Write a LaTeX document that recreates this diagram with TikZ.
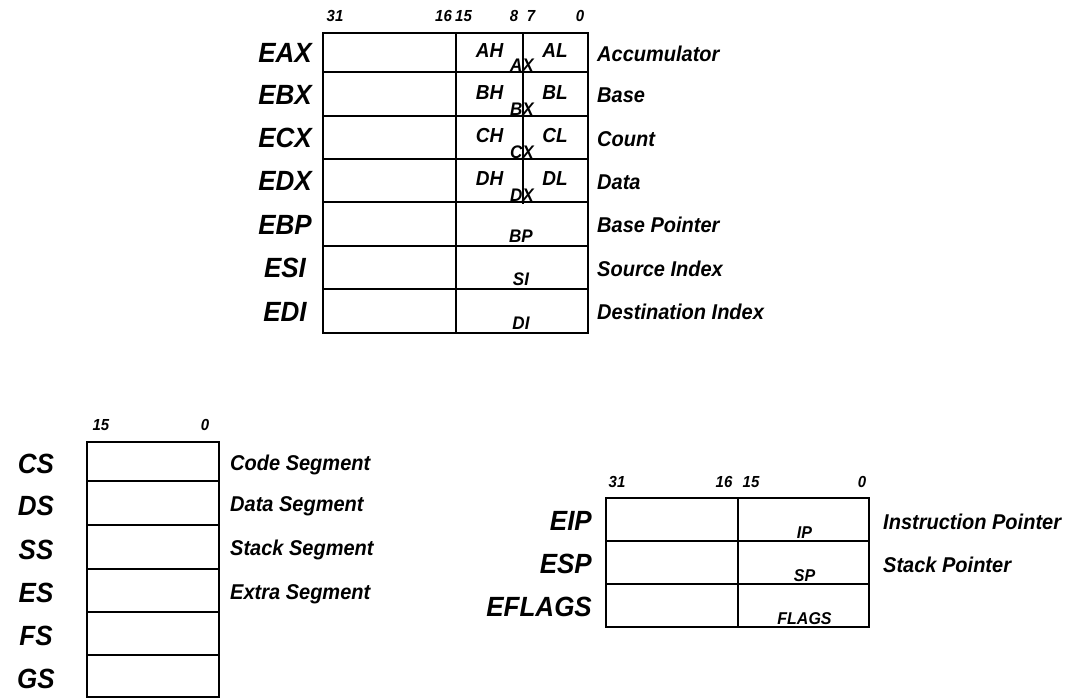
\documentclass[tikz,border=0pt]{standalone}
\usepackage{fontspec}
\setmainfont{Liberation Sans}
\newfontfamily\tallsans[FakeStretch=0.935]{Liberation Sans}
\begin{document}
\begin{tikzpicture}[x=1pt,y=-1pt,
  box/.style={line width=2.6pt},
  big/.style={font=\tallsans\fontsize{27.8}{28}\selectfont\bfseries\itshape, inner sep=0pt, anchor=base},
  bigr/.style={big, anchor=base east},
  desc/.style={font=\tallsans\fontsize{21.4}{22}\selectfont\bfseries\itshape, inner sep=0pt, anchor=base west},
  bit/.style={font=\tallsans\fontsize{16}{16}\selectfont\bfseries\itshape, inner sep=0pt, anchor=base},
  half/.style={font=\tallsans\fontsize{20.3}{20}\selectfont\bfseries\itshape, inner sep=0pt, anchor=base},
  sub/.style={font=\tallsans\fontsize{18.2}{18}\selectfont\bfseries\itshape, inner sep=0pt, anchor=base},
  low/.style={font=\tallsans\fontsize{17.1}{17}\selectfont\bfseries\itshape, inner sep=0pt, anchor=base}]
\useasboundingbox (0,0) rectangle (1070,697);

% ---------- general purpose registers ----------
\draw[box] (323,33) rectangle (588,333);
\foreach \y in {72,116,159,202,246,289} \draw[box] (323,\y) -- (588,\y);
\draw[box] (456,33) -- (456,333);
\draw[box] (523,33) -- (523,204);

\node[bit] (b31) at (335,21.5) {31};
\node[bit] (b16) at (443.5,21.5) {16};
\node[bit] (b15) at (463.5,21.5) {15};
\node[bit] (b8) at (514,21.5) {8};
\node[bit] (b7) at (531,21.5) {7};
\node[bit] (b0) at (580,21.5) {0};

\foreach \n/\c/\d in {EAX/52.5/Accumulator, EBX/94/Base, ECX/137.5/Count, EDX/180.5/Data,
  EBP/224/Base Pointer, ESI/267.5/Source Index, EDI/311/Destination Index}{
  \node[big] (n\n) at (285,\c+10) {\n};
  \node[desc] (d\n) at (597,\c+8.5) {\d};
}

\foreach \h/\l/\x/\c/\b in {AH/AL/AX/52.5/72, BH/BL/BX/94/116, CH/CL/CX/137.5/159, DH/DL/DX/180.5/202}{
  \node[half] (h\h) at (489.5,\c+5.3) {\h};
  \node[half] (h\l) at (555,\c+5.3) {\l};
  \node[sub] (s\x) at (522,\b-1) {\x};
}
\foreach \x/\b in {BP/246, SI/289, DI/333}{
  \node[sub] (s\x) at (521,\b-4) {\x};
}

% ---------- segment registers ----------
\draw[box] (87,442) rectangle (219,697);
\foreach \y in {481,525,569,612,655} \draw[box] (87,\y) -- (219,\y);
\node[bit] (sb15) at (101,430.5) {15};
\node[bit] (sb0) at (205,430.5) {0};
\foreach \n/\c in {CS/461.5, DS/503, SS/547, ES/590.5, FS/633.5, GS/676}{
  \node[big] (n\n) at (36,\c+12) {\n};
}
\foreach \n/\c/\d in {CS/461.5/Code Segment, DS/503/Data Segment, SS/547/Stack Segment, ES/590.5/Extra Segment}{
  \node[desc] (d\n) at (230,\c+8.7) {\d};
}

% ---------- EIP / ESP / EFLAGS ----------
\draw[box] (606,498) rectangle (869,627);
\foreach \y in {541,584} \draw[box] (606,\y) -- (869,\y);
\draw[box] (738,498) -- (738,627);
\node[bit] (eb31) at (617,487) {31};
\node[bit] (eb16) at (724,487) {16};
\node[bit] (eb15) at (751,487) {15};
\node[bit] (eb0) at (862,487) {0};
\foreach \n/\c/\s/\b in {EIP/519.5/IP/541, ESP/562.5/SP/584, EFLAGS/605.5/FLAGS/627}{
  \node[bigr] (n\n) at (592,\c+11) {\n};
  \node[low] (s\s) at (804.5,\b-3) {\s};
}
\node[desc] (dEIP) at (883,519.5+10) {Instruction Pointer};
\node[desc] (dESP) at (883,562.5+10) {Stack Pointer};
\end{tikzpicture}
\end{document}
